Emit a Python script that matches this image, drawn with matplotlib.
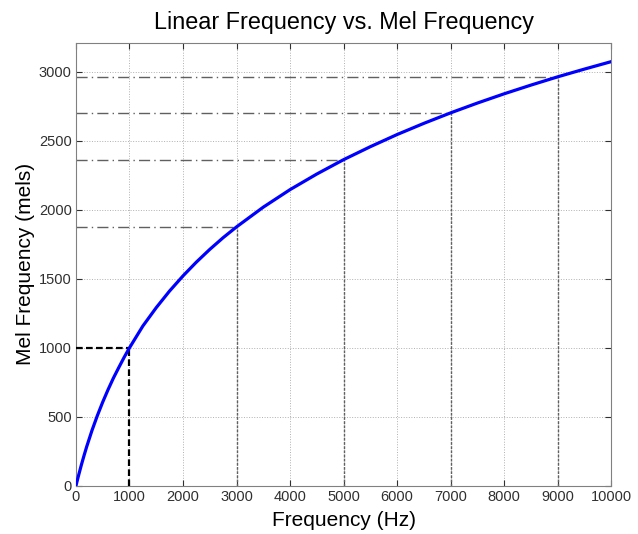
import matplotlib.pyplot as plt

# values
freq_hz = [0, 25, 50, 100, 150, 200, 300, 400, 500, 600, 700, 800, 900, 1000,
           1250, 1500, 1750, 2000, 2250, 2500, 2750, 3000, 3500, 4000, 4500,
           5000, 5500, 6000, 6500, 7000, 7500, 8000, 8500, 9000, 9500, 10000]
mel = [0, 39, 77, 150, 218, 283, 402, 509, 607, 697, 781, 857, 931, 1000,
       1158, 1291, 1412, 1521, 1621, 1713, 1798, 1876, 2019, 2146, 2259,
       2363, 2457, 2545, 2626, 2702, 2773, 2840, 2903, 2963, 3019, 3073]

guide_hz = [3000, 5000, 7000, 9000]
guide_mel = [1876, 2363, 2702, 2963]
ref_hz, ref_mel = 1000, 1000

x_ticks = list(range(0, 10001, 1000))
y_ticks = list(range(0, 3001, 500))

plt.rcParams["font.family"] = ["Liberation Sans", "DejaVu Sans"]

fig = plt.figure(figsize=(6.38, 5.34), dpi=100)
ax = fig.add_axes([0.119, 0.090, 0.839, 0.830])

ax.grid(True, linestyle=":", color="#b0b0b0", linewidth=0.7)

for gx, gy in zip(guide_hz, guide_mel):
    ax.plot([0, gx], [gy, gy], linestyle=(0, (8, 3, 1, 3)), color="#606060",
            linewidth=1.0, zorder=2)
    ax.plot([gx, gx], [0, gy], linestyle=(0, (2, 1)), color="#606060",
            linewidth=1.0, zorder=2)

ax.plot([0, ref_hz], [ref_mel, ref_mel], linestyle=(0, (3, 1.5)),
        color="black", linewidth=1.6, zorder=3)
ax.plot([ref_hz, ref_hz], [0, ref_mel], linestyle=(0, (3, 1.5)),
        color="black", linewidth=1.6, zorder=3)

ax.plot(freq_hz, mel, color="#0000ff", linewidth=2.3, zorder=4)

ax.set_xlim(0, 10000)
ax.set_ylim(0, 3210)
ax.set_xticks(x_ticks)
ax.set_yticks(y_ticks)
ax.tick_params(direction="in", length=4, labelsize=10.5, colors="#303030",
               top=True, right=True, pad=3)
for s in ax.spines.values():
    s.set_color("#808080")
    s.set_linewidth(0.8)

ax.set_title("Linear Frequency vs. Mel Frequency", fontsize=16.8, pad=10)
ax.set_xlabel("Frequency (Hz)", fontsize=15, labelpad=5)
ax.set_ylabel("Mel Frequency (mels)", fontsize=15, labelpad=3)

plt.savefig("out.png", dpi=100)
plt.close()
